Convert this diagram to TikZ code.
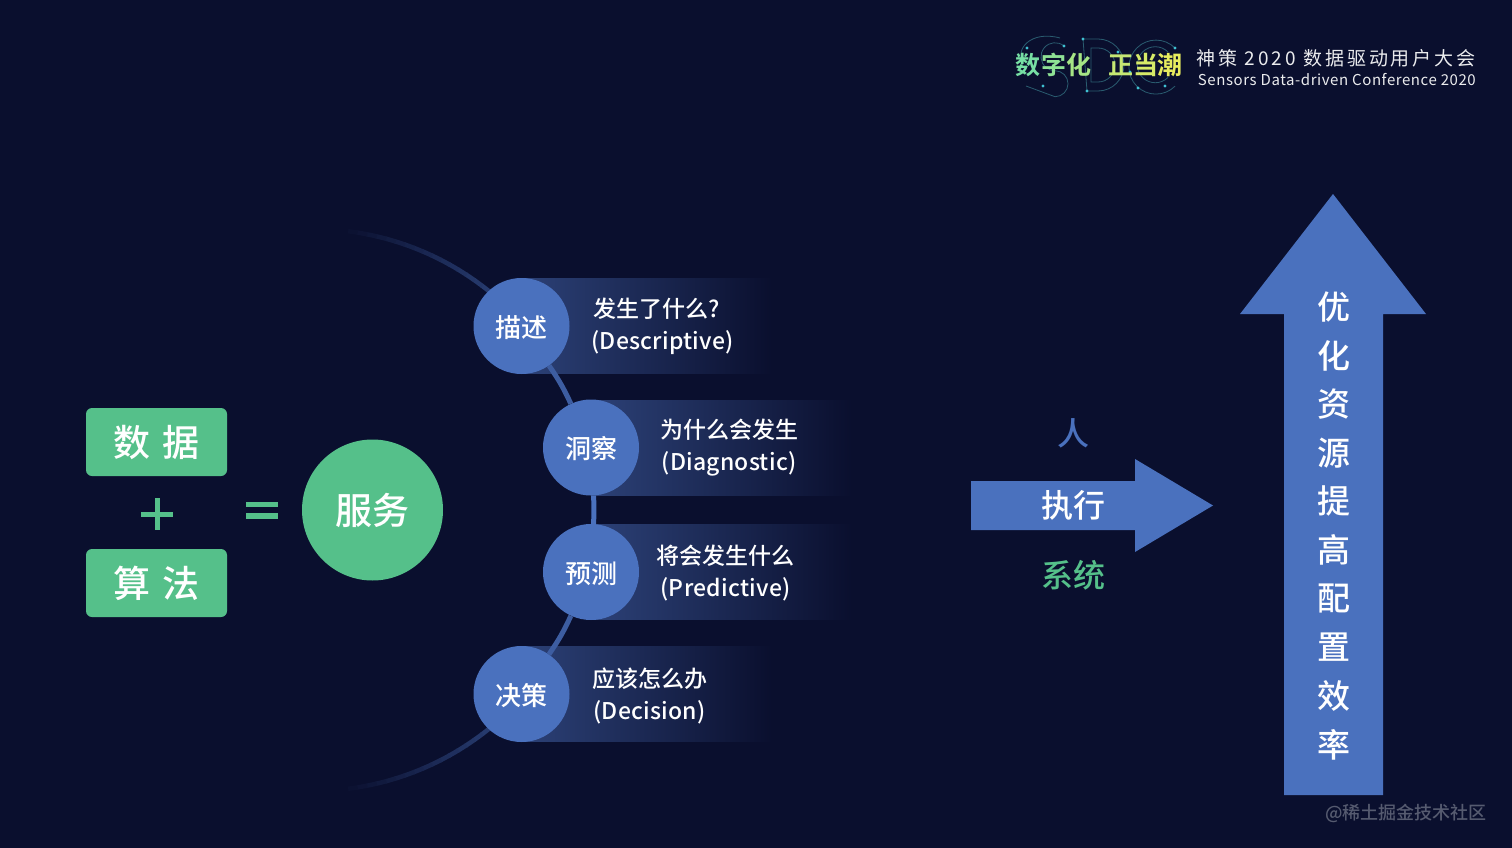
\documentclass[tikz,border=0pt]{standalone}
\usepackage{fontspec}
\setmainfont{Noto Sans CJK SC Medium}
\newfontfamily\headfont[LetterSpace=15.5]{Noto Sans CJK SC}
\newfontfamily\enfont[LetterSpace=3.8]{Noto Sans CJK SC}
\newfontfamily\labelfont[LetterSpace=1.0]{Noto Sans CJK SC Medium}
\newfontfamily\logofont{Noto Sans CJK SC Bold}
\usetikzlibrary{backgrounds}
\definecolor{bgnavy}{HTML}{0A0F2E}
\definecolor{mainblue}{HTML}{4A71BE}
\definecolor{panelblue}{HTML}{2C4177}
\definecolor{maingreen}{HTML}{55C08A}
\definecolor{logoline}{HTML}{2A5C70}
\definecolor{logodot}{HTML}{3FC0D2}
\definecolor{wmgrey}{HTML}{565B70}
\newcommand{\fsize}[1]{\fontsize{#1}{#1}\selectfont}
\begin{document}
\begin{tikzpicture}[x=1pt,y=-1pt,
        greenbox/.style={fill=maingreen,rounded corners=6pt,minimum width=141pt,minimum height=68pt,inner sep=0pt,text=white,font=\fsize{37}},
        bluecircle/.style={circle,fill=mainblue,minimum size=96pt,inner sep=0pt,text=white,font=\fsize{26},text height=22pt,text depth=0pt},
        paneltext/.style={text=white,font=\fsize{23},align=center,inner sep=0pt},
        linklabel/.style={font=\fsize{32},inner sep=0pt},
        panelfill/.style={left color=panelblue,right color=bgnavy,draw=none},
        logodotfill/.style={fill=logodot,draw=none}]
    \useasboundingbox (0,0) rectangle (1512,848);

    % left part
    \node[greenbox] (data) at (156.5,442) {数\hspace{13pt}据};
    \node[greenbox] (algo) at (156.5,583) {算\hspace{13pt}法};
    \coordinate (plus) at (157,514);
    \fill[maingreen] ([xshift=-16pt,yshift=-2.5pt]plus) rectangle ([xshift=16pt,yshift=2.5pt]plus);
    \fill[maingreen] ([xshift=-2.5pt,yshift=-16pt]plus) rectangle ([xshift=2.5pt,yshift=16pt]plus);
    \fill[maingreen] (246,501.5) rectangle (278,507);
    \fill[maingreen] (246,513) rectangle (278,518.5);
    \node[circle,fill=maingreen,minimum size=141pt,inner sep=0pt,text=white,font=\fsize{37}] (service) at (372.5,510) {服务};

    % four steps
    \node[bluecircle] (desc) at (521.5,326) {描述};
    \node[bluecircle] (diag) at (591,447.5) {洞察};
    \node[bluecircle] (pred) at (591,572) {预测};
    \node[bluecircle] (deci) at (521.5,694) {决策};

    \node[paneltext,align=left] (desctext) at (662.5,326) {\hspace{2pt}发生了什么?\\[9pt]{\labelfont (Descriptive)}};
    \node[paneltext] (diagtext) at (729,448) {为什么会发生\\[9pt]{\labelfont (Diagnostic)}};
    \node[paneltext] (predtext) at (725.5,573) {将会发生什么\\[9pt]{\labelfont (Predictive)}};
    \node[paneltext] (decitext) at (649.5,696) {应该怎么办\\[9pt]{\labelfont (Decision)}};

    \begin{scope}[on background layer]
        \fill[bgnavy] (0,0) rectangle (1512,848);
        \shade[panelfill] (521.5,278) rectangle (772,373.5);
        \shade[panelfill] (591,400) rectangle (852,495);
        \shade[panelfill] (591,524) rectangle (852,619.5);
        \shade[panelfill] (521.5,646) rectangle (772,741.5);
        \draw[line width=5pt,mainblue!80!bgnavy] (desc) to[bend left=5] (diag);
        \draw[line width=5pt,mainblue] (diag) to[bend left=3] (pred);
        \draw[line width=5pt,mainblue!80!bgnavy] (pred) to[bend left=5] (deci);
        \coordinate (arccen) at (312.7,510);
        \foreach \a [evaluate=\a as \p using {(85-\a)*2.5}] in {45,47,...,85} {
            \pgfmathsetmacro{\q}{\p*0.55}
            \draw[line width=4.5pt,mainblue!\q!bgnavy] (arccen) ++(\a:281pt) arc[start angle=\a,end angle=\a-2.2,radius=281pt];
            \draw[line width=4.5pt,mainblue!\q!bgnavy] (arccen) ++(-\a:281pt) arc[start angle=-\a,end angle=-\a+2.2,radius=281pt];
        }
    \end{scope}

    % execution arrow
    \fill[mainblue] (971,481) -- (1135,481) -- (1135,459) -- (1213,505.5) -- (1135,552) -- (1135,530) -- (971,530) -- cycle;
    \node[linklabel,text=mainblue] (person) at (1073,433) {人};
    \node[linklabel,text=white] (execute) at (1073,505) {执行};
    \node[linklabel,text=maingreen] (system) at (1073,575) {系统};

    % tall arrow
    \fill[mainblue] (1333,194) -- (1426,314) -- (1383,314) -- (1383,795) -- (1284,795) -- (1284,314) -- (1240,314) -- cycle;
    \foreach \ch [count=\i from 0] in {优,化,资,源,提,高,配,置,效,率} {
        \node[text=white,font=\fsize{33},inner sep=0pt] (goal\i) at (1333.5,307+48.6*\i) {\ch};
    }

    % logo
    \begin{scope}[line width=0.8pt,draw=logoline]
        \draw (1064,46) arc[start angle=50,end angle=270,radius=14pt] arc[start angle=90,end angle=-90,radius=13pt] -- (1026,86);
        \draw (1060,38) .. controls (1030,30) and (1015,50) .. (1023,62);
        \draw (1083,39) -- (1098,39) arc[start angle=90,end angle=-90,radius=26pt] -- (1087,91) -- cycle;
        \draw (1091,48) -- (1098,48) arc[start angle=90,end angle=-90,radius=17pt] -- (1091,82) -- cycle;
        \draw (1175,48) arc[start angle=45,end angle=315,radius=27pt];
        \draw (1168,52) arc[start angle=45,end angle=315,radius=18pt];
    \end{scope}
    \foreach \dx/\dy in {1064/46,1027/48,1043/86,1083/39,1087/91,1118/52,1175/48,1165/86,1138/88,1130/72} {
        \fill[logodotfill] (\dx,\dy) circle (1.6pt);
    }
    \foreach \ch/\xc/\colr in {数/1028/77DFA4,字/1054/8FE295,化/1079/A6E585,正/1121/C6E873,当/1146/D6EA68,潮/1170/E8EC5E} {
        \definecolor{logotextcolor}{HTML}{\colr}
        \node[text=logotextcolor,font=\logofont\fsize{25},inner sep=0pt] at (\xc,65) {\ch};
    }
    \node[anchor=east,text=white!92!bgnavy,font=\headfont\fsize{19},inner sep=0pt] (confcn) at (1476,58) {神策 2020 数据驱动用户大会};
    \node[anchor=east,text=white!92!bgnavy,font=\enfont\fsize{15},inner sep=0pt] (confen) at (1476,80) {Sensors Data-driven Conference 2020};

    % watermark
    \node[anchor=east,text=wmgrey,font=\fsize{18},inner sep=0pt] (mark) at (1487,813) {@稀土掘金技术社区};
\end{tikzpicture}
\end{document}
